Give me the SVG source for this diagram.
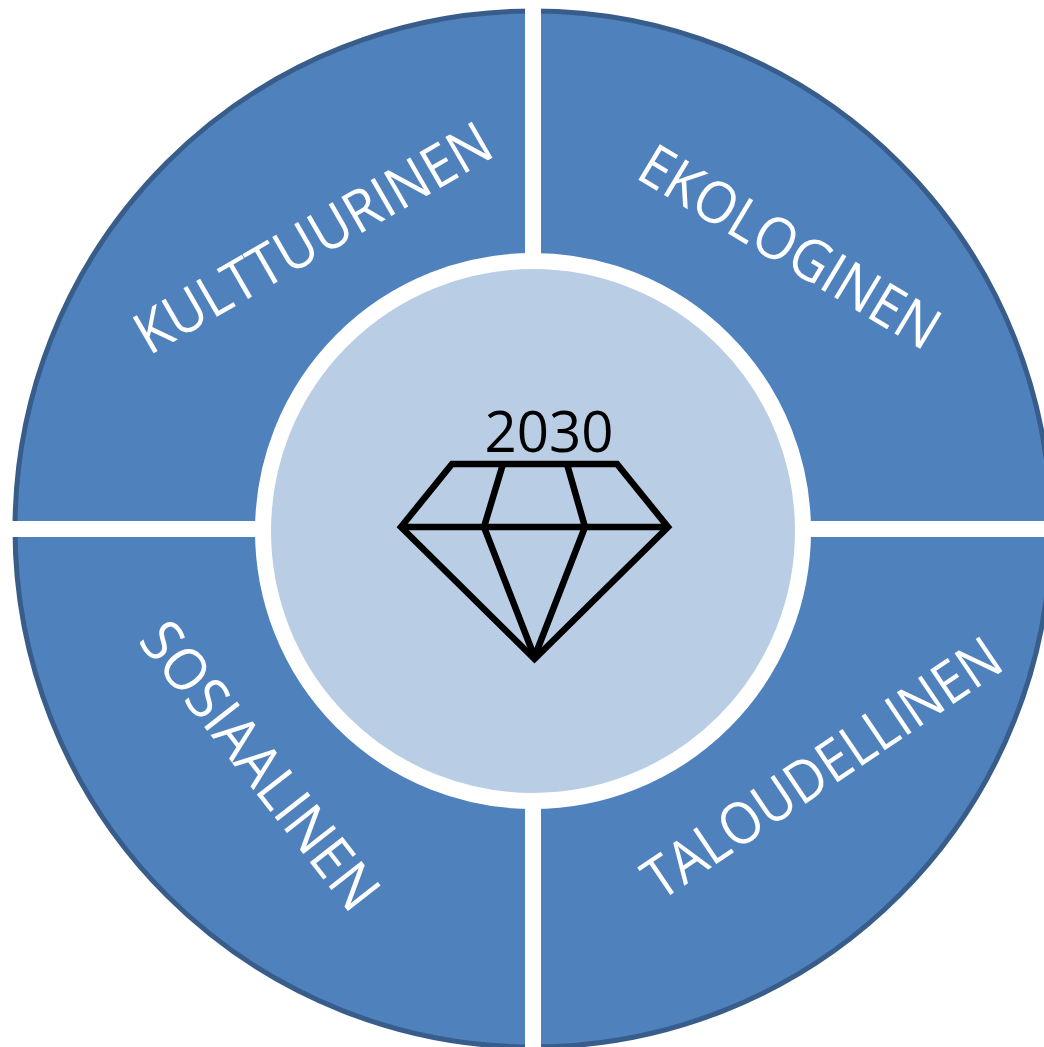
<svg xmlns="http://www.w3.org/2000/svg" width="1044" height="1047" viewBox="0 0 1044 1047">
<style>
.q{fill:#4f81bd;stroke:#385d8a;stroke-width:5}
.t{font-family:"Open Sans","Liberation Sans",sans-serif;font-size:58px;fill:#fff}
.d{fill:none;stroke:#000;stroke-width:6.5;stroke-linejoin:miter}
.i{stroke-linejoin:bevel}
</style>
<rect width="1044" height="1047" fill="#fff"/>
<g id="ring"><circle class="q" cx="533" cy="529" r="518"/></g>
<g id="gaps" fill="#fff"><rect x="525" y="0" width="16" height="1047"/><rect x="0" y="521" width="1044" height="16"/></g>
<g id="kulttuurinen"><text class="t" textLength="402" lengthAdjust="spacingAndGlyphs" transform="translate(149 356) rotate(-30)">KULTTUURINEN</text></g>
<g id="ekologinen"><text class="t" textLength="339" lengthAdjust="spacingAndGlyphs" transform="translate(634 177) rotate(31)">EKOLOGINEN</text></g>
<g id="sosiaalinen"><text class="t" textLength="348" lengthAdjust="spacingAndGlyphs" transform="translate(137 641) rotate(52)">SOSIAALINEN</text></g>
<g id="taloudellinen"><text class="t" textLength="418" lengthAdjust="spacingAndGlyphs" transform="translate(660 902) rotate(-34)">TALOUDELLINEN</text></g>
<g id="center"><circle cx="533" cy="531" r="270" fill="#b9cde5" stroke="#fff" stroke-width="16"/></g>
<g id="diamond">
<text x="549" y="452" font-family="'Open Sans','Liberation Sans',sans-serif" font-size="57" text-anchor="middle" textLength="129" lengthAdjust="spacingAndGlyphs">2030</text>
<path class="d" d="M452 464H617L668 527L534.500 659L401 527Z"/>
<path class="d i" d="M401 527H668M503 464L484 527L534.500 657L585 527L567 464"/>
</g>
</svg>
